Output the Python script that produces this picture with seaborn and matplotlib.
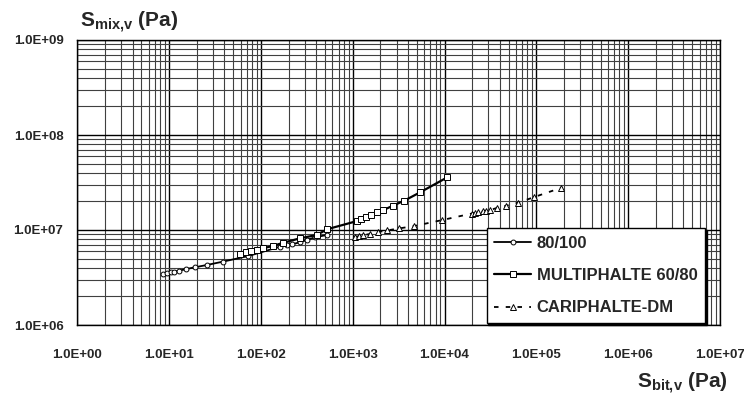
import numpy as np
import pandas as pd
import matplotlib
matplotlib.use("Agg")
import matplotlib.pyplot as plt
import matplotlib.ticker as mticker
import seaborn as sns

# ---- data ----
bit_80_100 = [8.5, 9.4, 10.4, 11.3, 12.9, 15.3, 19.1, 25.7, 38.4, 72.9,
              161, 191, 217, 267, 315, 389, 521]
mix_80_100 = [3.42e6, 3.50e6, 3.59e6, 3.64e6, 3.73e6, 3.88e6, 4.05e6, 4.28e6,
              4.64e6, 5.32e6, 6.67e6, 6.95e6, 7.07e6, 7.43e6, 7.85e6, 8.38e6, 8.86e6]

bit_multi = [59.2, 68.8, 77.5, 90.0, 106, 134, 176, 267, 405, 529, 1106, 1217,
             1378, 1570, 1816, 2154, 2727, 3623, 5410, 10740]
mix_multi = [5.55e6, 5.82e6, 6.01e6, 6.16e6, 6.42e6, 6.79e6, 7.35e6, 8.18e6,
             8.86e6, 1.02e7, 1.24e7, 1.31e7, 1.37e7, 1.44e7, 1.53e7, 1.62e7,
             1.80e7, 2.03e7, 2.49e7, 3.59e7]

bit_cari = [1059, 1171, 1295, 1544, 1903, 2345, 3220, 4655, 9330, 19780, 21480,
            23330, 26470, 28320, 31320, 37330, 47140, 63650, 94380, 184500]
mix_cari = [8.38e6, 8.65e6, 8.80e6, 9.08e6, 9.53e6, 9.88e6, 1.04e7, 1.10e7,
            1.27e7, 1.49e7, 1.52e7, 1.54e7, 1.57e7, 1.60e7, 1.62e7, 1.71e7,
            1.80e7, 1.94e7, 2.22e7, 2.77e7]

series_names = ["80/100", "MULTIPHALTE 60/80", "CARIPHALTE-DM"]

# ---- style ----
sns.set_style("white")
plt.rcParams['font.family'] = ['Liberation Sans', 'DejaVu Sans']
plt.rcParams['mathtext.fontset'] = 'custom'
plt.rcParams['mathtext.rm'] = 'Liberation Sans'
plt.rcParams['mathtext.bf'] = 'Liberation Sans:bold'
plt.rcParams['mathtext.it'] = 'Liberation Sans:italic'

fig = plt.figure(figsize=(7.44, 4.01), dpi=100)
ax = fig.add_axes([77.3/744, 1-325/401, (720-77.3)/744, (325-40)/401])

ax.set_xscale('log')
ax.set_yscale('log')
ax.set_xlim(1, 1e7)
ax.set_ylim(1e6, 1e9)

ax.xaxis.set_major_locator(mticker.LogLocator(base=10, numticks=20))
ax.xaxis.set_minor_locator(mticker.LogLocator(base=10, subs=np.arange(2, 10), numticks=100))
ax.yaxis.set_major_locator(mticker.LogLocator(base=10, numticks=20))
ax.yaxis.set_minor_locator(mticker.LogLocator(base=10, subs=np.arange(2, 10), numticks=100))
fmt = mticker.FuncFormatter(lambda v, p: f"{v:.1E}")
ax.xaxis.set_major_formatter(fmt)
ax.yaxis.set_major_formatter(fmt)
ax.xaxis.set_minor_formatter(mticker.NullFormatter())
ax.yaxis.set_minor_formatter(mticker.NullFormatter())

ax.grid(which='major', color='black', linewidth=1.0)
ax.grid(which='minor', color='#404040', linewidth=0.8)
ax.set_axisbelow(True)
for s in ax.spines.values():
    s.set_color('black')
    s.set_linewidth(1.0)

ax.tick_params(which='both', length=0)
ax.tick_params(axis='x', pad=17, labelsize=9.5)
ax.tick_params(axis='y', pad=10, labelsize=9.5)
for lab in ax.get_xticklabels() + ax.get_yticklabels():
    lab.set_fontweight('bold')

# ---- data lines ----
df1 = pd.DataFrame({"x": bit_80_100, "y": mix_80_100})
df2 = pd.DataFrame({"x": bit_multi, "y": mix_multi})
df3 = pd.DataFrame({"x": bit_cari, "y": mix_cari})

sns.lineplot(data=df1, x="x", y="y", ax=ax, color='black', linewidth=1.3,
             marker='o', markersize=3.5, markerfacecolor='white',
             markeredgecolor='black', markeredgewidth=0.7,
             sort=False, estimator=None, label=series_names[0])
sns.lineplot(data=df2, x="x", y="y", ax=ax, color='black', linewidth=1.6,
             marker='s', markersize=4.5, markerfacecolor='white',
             markeredgecolor='black', markeredgewidth=0.7,
             sort=False, estimator=None, label=series_names[1])
sns.lineplot(data=df3, x="x", y="y", ax=ax, color='black', linewidth=1.3,
             marker='^', markersize=4.5, markerfacecolor='white',
             markeredgecolor='black', markeredgewidth=0.7,
             sort=False, estimator=None, label=series_names[2])
ax.lines[-1].set_dashes([2.5, 4])

ax.set_xlabel("")
ax.set_ylabel("")

handles, labels = ax.get_legend_handles_labels()
leg = ax.legend(handles, labels, loc='lower right',
                bbox_to_anchor=((705-77.3)/642.7, 2/285), borderaxespad=0,
                prop={'weight': 'bold', 'size': 12}, frameon=True,
                fancybox=False, edgecolor='black', framealpha=1,
                handlelength=2.2, handletextpad=0.35, labelspacing=1.05,
                borderpad=0.45,
                shadow={'ox': 1.2, 'oy': -1.2, 'color': 'black', 'alpha': 1.0})
leg.get_frame().set_linewidth(1.0)

fig.text(80/744, 1-22/401, r'$\mathbf{S_{mix{,}v}}$ (Pa)', fontsize=15,
         fontweight='bold', ha='left', va='center')
fig.text(728/744, 1-383/401, r'$\mathbf{S_{bit{,}v}}$ (Pa)', fontsize=15,
         fontweight='bold', ha='right', va='center')

fig.savefig("out.png", dpi=100)
